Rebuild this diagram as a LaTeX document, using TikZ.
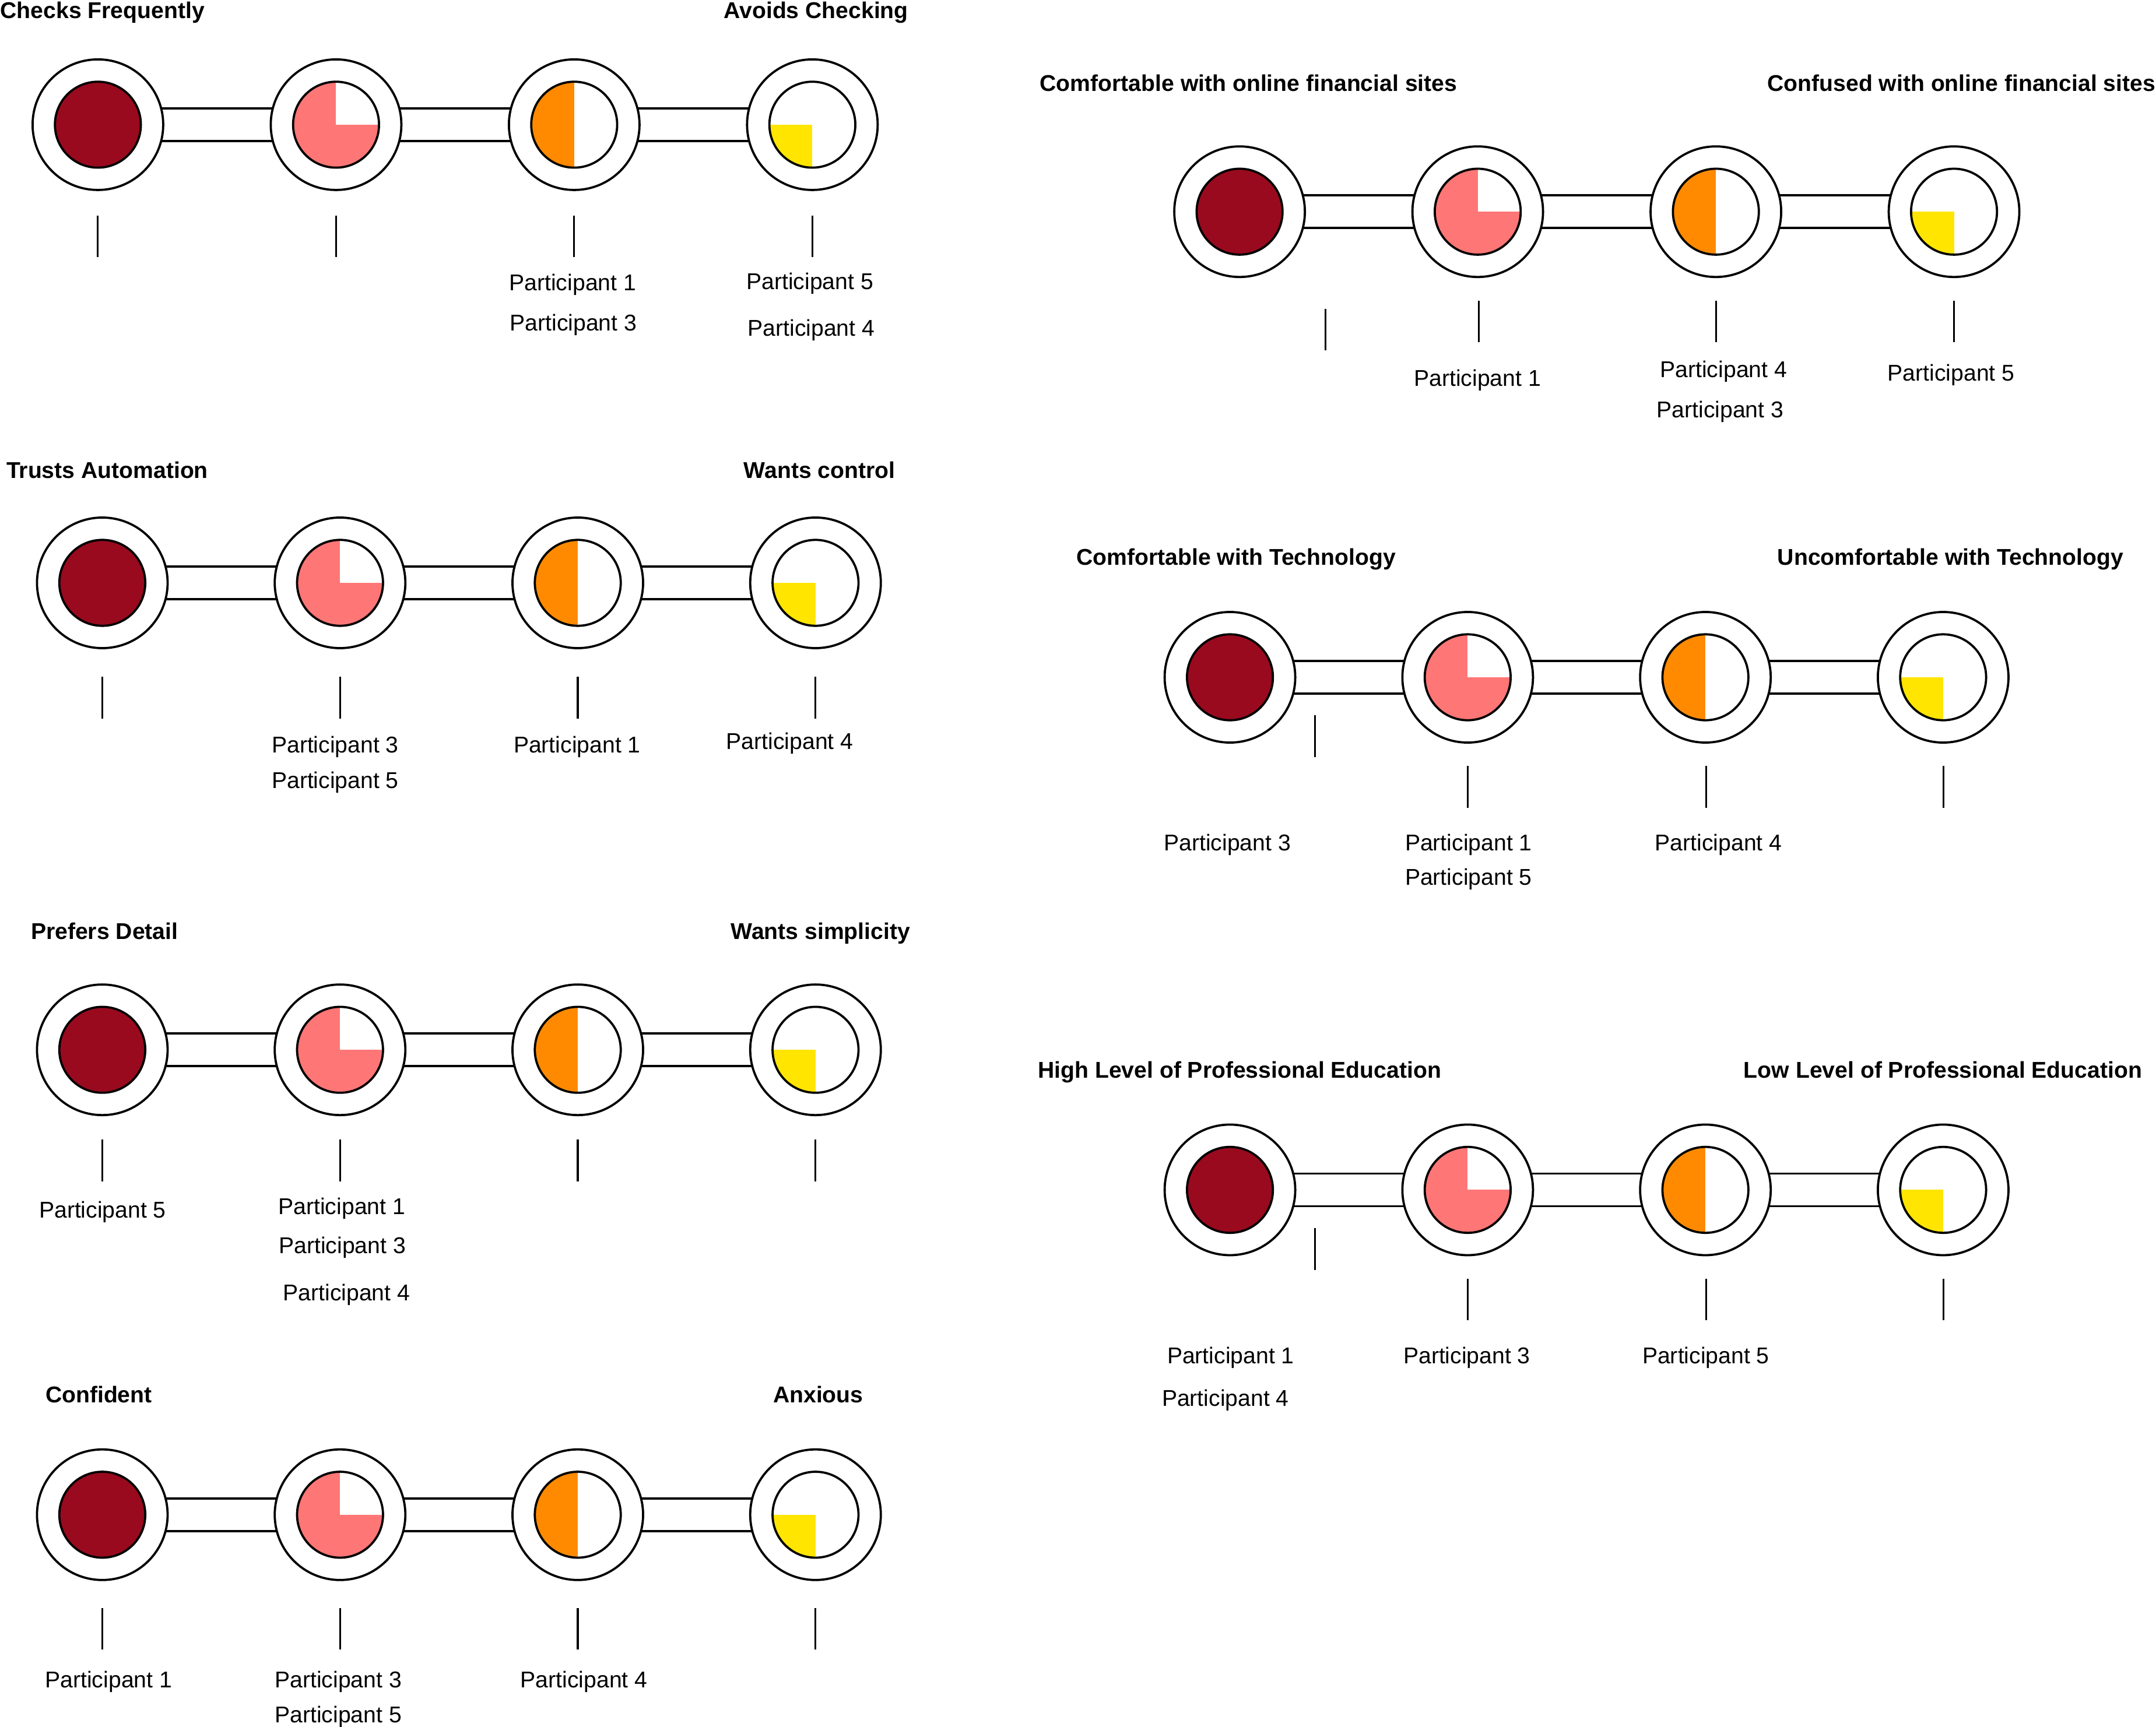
\documentclass[tikz,border=0pt]{standalone}
\usepackage{fontspec}
\setmainfont{Liberation Sans}
\usetikzlibrary{calc}
\pgfdeclarelayer{bg}
\pgfsetlayers{bg,main}

\definecolor{dialred}{HTML}{990A1E}
\definecolor{dialpink}{HTML}{FF7676}
\definecolor{dialorange}{HTML}{FF8A00}
\definecolor{dialyellow}{HTML}{FFE500}

\tikzset{
  ring/.style={circle, draw=black, fill=white, line width=1.6pt,
    minimum size=95pt, inner sep=0pt},
  core/.style={circle, draw=black, fill=white, line width=1.6pt,
    minimum size=62.5pt, inner sep=0pt},
  coreA/.style={core, fill=dialred},
  coreB/.style={core, path picture={
      \fill[dialpink] (path picture bounding box.south west) rectangle (path picture bounding box.north east);
      \fill[white] (path picture bounding box.center) rectangle (path picture bounding box.north east);}},
  coreC/.style={core, path picture={
      \fill[dialorange] (path picture bounding box.south west) rectangle (path picture bounding box.north);}},
  coreD/.style={core, path picture={
      \fill[dialyellow] (path picture bounding box.south west) rectangle (path picture bounding box.center);}},
  barline/.style={line width=1.6pt, black},
  tickmark/.style={line width=1.3pt, black},
  heading/.style={font=\fontsize{16.6}{20}\selectfont\bfseries, anchor=base, inner sep=0pt},
  plabel/.style={font=\fontsize{16.6}{20}\selectfont, anchor=center, inner sep=0pt, yshift=-2pt},
}

% one scale of four dials: #1 name prefix, #2 first x, #3 y, #4 spacing
\newcommand{\dialrow}[4]{%
  \node[ring] (#1a) at (#2,#3) {};
  \node[ring] (#1b) at ({#2+#4},#3) {};
  \node[ring] (#1c) at ({#2+2*#4},#3) {};
  \node[ring] (#1d) at ({#2+3*#4},#3) {};
  \node[coreA] (#1ai) at (#1a) {};
  \node[coreB] (#1bi) at (#1b) {};
  \node[coreC] (#1ci) at (#1c) {};
  \node[coreD] (#1di) at (#1d) {};
  \begin{pgfonlayer}{bg}
    \foreach \u/\v in {a/b,b/c,c/d}{
      \draw[barline] ([yshift=11.9pt]#1\u.center) -- ([yshift=11.9pt]#1\v.center);
      \draw[barline] ([yshift=-11.9pt]#1\u.center) -- ([yshift=-11.9pt]#1\v.center);
    }
  \end{pgfonlayer}
}

\begin{document}
\begin{tikzpicture}[x=1pt, y=-1pt]
\useasboundingbox (0,0) rectangle (1568,1256);

% ---------- left column ----------
% Checks Frequently / Avoids Checking
\node[heading] (t1l) at (74.5,13.5) {Checks Frequently};
\node[heading] (t1r) at (593.5,13.5) {Avoids Checking};
\dialrow{r1}{71.2}{90.7}{173.2}
\foreach \x in {71.2,244.4,417.6,590.8} \draw[tickmark] (\x,157) -- (\x,187);
\node[plabel] (r1p1) at (416.5,205) {Participant 1};
\node[plabel] (r1p3) at (417,234.5) {Participant 3};
\node[plabel] (r1p5) at (589,204.4) {Participant 5};
\node[plabel] (r1p4) at (590,238) {Participant 4};

% Trusts Automation / Wants control
\node[heading] (t2l) at (78,347.8) {Trusts Automation};
\node[heading] (t2r) at (596,347.8) {Wants control};
\dialrow{r2}{74.4}{424}{172.9}
\foreach \x in {74.4,247.3,420.2,593.1} \draw[tickmark] (\x,492.3) -- (\x,522.6);
\node[plabel] (r2p3) at (243.8,541.3) {Participant 3};
\node[plabel] (r2p5) at (243.8,567.3) {Participant 5};
\node[plabel] (r2p1) at (419.7,541.3) {Participant 1};
\node[plabel] (r2p4) at (574.4,538.6) {Participant 4};

% Prefers Detail / Wants simplicity
\node[heading] (t3l) at (76,683.2) {Prefers Detail};
\node[heading] (t3r) at (596.7,683.2) {Wants simplicity};
\dialrow{r3}{74.4}{763.7}{172.9}
\foreach \x in {74.4,247.3,420.2,593.1} \draw[tickmark] (\x,829) -- (\x,859.6);
\node[plabel] (r3p5) at (74.6,879.5) {Participant 5};
\node[plabel] (r3p1) at (248.6,877) {Participant 1};
\node[plabel] (r3p3) at (249,905.7) {Participant 3};
\node[plabel] (r3p4) at (252,939.8) {Participant 4};

% Confident / Anxious
\node[heading] (t4l) at (71.8,1020.5) {Confident};
\node[heading] (t4r) at (595,1020.5) {Anxious};
\dialrow{r4}{74.4}{1101.9}{172.9}
\foreach \x in {74.4,247.3,420.2,593.1} \draw[tickmark] (\x,1170) -- (\x,1200);
\node[plabel] (r4p1) at (79,1221.5) {Participant 1};
\node[plabel] (r4p3) at (246,1221.5) {Participant 3};
\node[plabel] (r4p5) at (246,1247) {Participant 5};
\node[plabel] (r4p4) at (424.7,1221.5) {Participant 4};

% ---------- right column ----------
% online financial sites
\node[heading] (t5l) at (908,66.2) {Comfortable with online financial sites};
\node[heading] (t5r) at (1426.5,66.2) {Confused with online financial sites};
\dialrow{r5}{901.5}{154}{173.2}
\draw[tickmark] (963.8,224.8) -- (963.8,255);
\foreach \x in {1075.5,1248.2,1421.1} \draw[tickmark] (\x,218.8) -- (\x,249);
\node[plabel] (r5p1) at (1074.5,274.8) {Participant 1};
\node[plabel] (r5p4) at (1253.5,268.4) {Participant 4};
\node[plabel] (r5p3) at (1251,297.5) {Participant 3};
\node[plabel] (r5p5) at (1419,271) {Participant 5};

% technology
\node[heading] (t6l) at (899,411) {Comfortable with Technology};
\node[heading] (t6r) at (1418.5,411) {Uncomfortable with Technology};
\dialrow{r6}{894.5}{492.7}{172.9}
\draw[tickmark] (956.5,520.3) -- (956.5,550.6);
\foreach \x in {1067.6,1240.8,1413.5} \draw[tickmark] (\x,557) -- (\x,587.5);
\node[plabel] (r6p3) at (892.6,612.6) {Participant 3};
\node[plabel] (r6p1) at (1068,612.6) {Participant 1};
\node[plabel] (r6p5) at (1068,637.4) {Participant 5};
\node[plabel] (r6p4) at (1249.8,612.6) {Participant 4};

% professional education
\node[heading] (t7l) at (901.5,784) {High Level of Professional Education};
\node[heading] (t7r) at (1413,784) {Low Level of Professional Education};
\dialrow{r7}{894.5}{865.6}{172.9}
\draw[tickmark] (956.5,893.5) -- (956.5,923.7);
\foreach \x in {1067.6,1240.8,1413.5} \draw[tickmark] (\x,930.2) -- (\x,960.5);
\node[plabel] (r7p1) at (895,985.7) {Participant 1};
\node[plabel] (r7p4) at (891.2,1016.5) {Participant 4};
\node[plabel] (r7p3) at (1066.8,985.7) {Participant 3};
\node[plabel] (r7p5) at (1240.6,985.7) {Participant 5};
\end{tikzpicture}
\end{document}
